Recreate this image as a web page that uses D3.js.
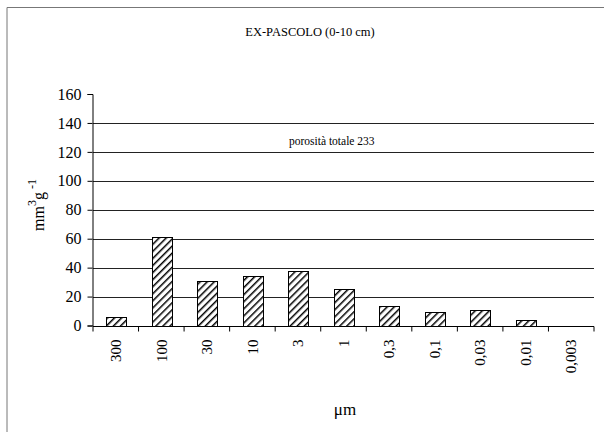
<!DOCTYPE html>
<html>
<head>
<meta charset="utf-8">
<script src="https://cdn.jsdelivr.net/npm/d3@7"></script>
<style>
  body { margin: 0; background: #fff; }
  svg, text { font-family: "Liberation Serif", "Times New Roman", serif; }
  text { fill: #000; }
</style>
</head>
<body>
<div id="chart"></div>
<script>
// pore diameter classes (µm) and pore volume (mm3 g-1)
const classes = ["300", "100", "30", "10", "3", "1", "0,3", "0,1", "0,03", "0,01", "0,003"];
const volumes = [6, 61.5, 31, 34, 37.5, 25, 13.5, 9, 10.5, 3.5, 0];
const yTicks = [0, 20, 40, 60, 80, 100, 120, 140, 160];
const gridValues = [20, 40, 60, 80, 100, 120, 140];

const width = 604, height = 432;
const margin = {top: 94, right: 10, bottom: 107, left: 93};
const serif = '"Liberation Serif", "Times New Roman", serif';

const svg = d3.select("#chart").append("svg")
  .attr("width", width)
  .attr("height", height)
  .attr("font-family", serif);

// hatch pattern for the bars
const defs = svg.append("defs");
const pat = defs.append("pattern")
  .attr("id", "hatch")
  .attr("patternUnits", "userSpaceOnUse")
  .attr("width", 5)
  .attr("height", 5)
  .attr("patternTransform", "rotate(45)");
pat.append("rect").attr("width", 5).attr("height", 5).attr("fill", "#fff");
pat.append("line")
  .attr("x1", 0).attr("y1", 0).attr("x2", 0).attr("y2", 5)
  .attr("stroke", "#000").attr("stroke-width", 3);

// outer frame (cut off at the right and bottom edge)
svg.append("path")
  .attr("d", `M7,${height + 5}V7.5H${width + 5}`)
  .attr("fill", "none")
  .attr("stroke", "#777")
  .attr("stroke-width", 1);

const x = d3.scaleBand()
  .domain(classes)
  .range([margin.left, 594])
  .paddingInner(0.57)
  .paddingOuter(0.285);

const y = d3.scaleLinear()
  .domain([0, 160])
  .range([325.5, margin.top]);

// gridlines
svg.append("g")
  .selectAll("line")
  .data(gridValues)
  .join("line")
  .attr("x1", margin.left)
  .attr("x2", 594)
  .attr("y1", d => Math.round(y(d)) + 0.5)
  .attr("y2", d => Math.round(y(d)) + 0.5)
  .attr("stroke", "#222")
  .attr("stroke-width", 1);

// bars
svg.append("g")
  .selectAll("rect")
  .data(volumes.map((v, i) => ({c: classes[i], v})).filter(d => d.v > 0))
  .join("rect")
  .attr("x", d => Math.round(x(d.c)) + 0.5)
  .attr("y", d => Math.round(y(d.v)) + 0.5)
  .attr("width", Math.round(x.bandwidth()))
  .attr("height", d => Math.round(y(0)) - Math.round(y(d.v)))
  .attr("fill", "url(#hatch)")
  .attr("stroke", "#000")
  .attr("stroke-width", 1);

// y axis
const yAxis = svg.append("g")
  .attr("transform", `translate(${margin.left - 0.5},0)`)
  .call(d3.axisLeft(y).tickValues(yTicks).tickSize(5).tickPadding(6))
  .attr("font-family", serif)
  .attr("font-size", 16);
yAxis.select(".domain").attr("stroke", "#000");

// x axis: ticks sit on the category boundaries
const xAxis = svg.append("g")
  .attr("transform", `translate(0,${Math.round(y(0)) + 0.5})`)
  .call(d3.axisBottom(x).tickSize(0).tickPadding(0))
  .attr("font-family", serif)
  .attr("font-size", 15);
xAxis.select(".domain").attr("d", `M${margin.left},0H594`).attr("stroke", "#000");
xAxis.selectAll(".tick line").remove();
const step = x.step();
xAxis.selectAll(".sep")
  .data(d3.range(classes.length + 1))
  .join("line")
  .attr("class", "sep")
  .attr("x1", i => margin.left + i * step)
  .attr("x2", i => margin.left + i * step)
  .attr("y1", 0)
  .attr("y2", 5)
  .attr("stroke", "#000");
xAxis.selectAll(".tick text")
  .attr("transform", "rotate(-90)")
  .attr("x", -13)
  .attr("y", 0)
  .attr("dy", "0.35em")
  .attr("text-anchor", "end");

// title
svg.append("text")
  .attr("x", 310)
  .attr("y", 36)
  .attr("text-anchor", "middle")
  .style("font-size", "12.5px")
  .text("EX-PASCOLO (0-10 cm)");

// annotation
svg.append("text")
  .attr("x", 289)
  .attr("y", 145)
  .style("font-size", "11.5px")
  .text("porosità totale 233");

// y label
const yl = svg.append("text")
  .attr("transform", "translate(44,205) rotate(-90)")
  .attr("text-anchor", "middle")
  .style("font-size", "16px");
yl.append("tspan").text("mm");
yl.append("tspan").attr("dy", -8).style("font-size", "12px").text("3");
yl.append("tspan").attr("dy", 8).text("g");
yl.append("tspan").attr("dy", -8).style("font-size", "12px").text(" -1");

// x label
svg.append("text")
  .attr("x", 345)
  .attr("y", 415)
  .attr("text-anchor", "middle")
  .style("font-size", "17px")
  .text("μm");
</script>
</body>
</html>
